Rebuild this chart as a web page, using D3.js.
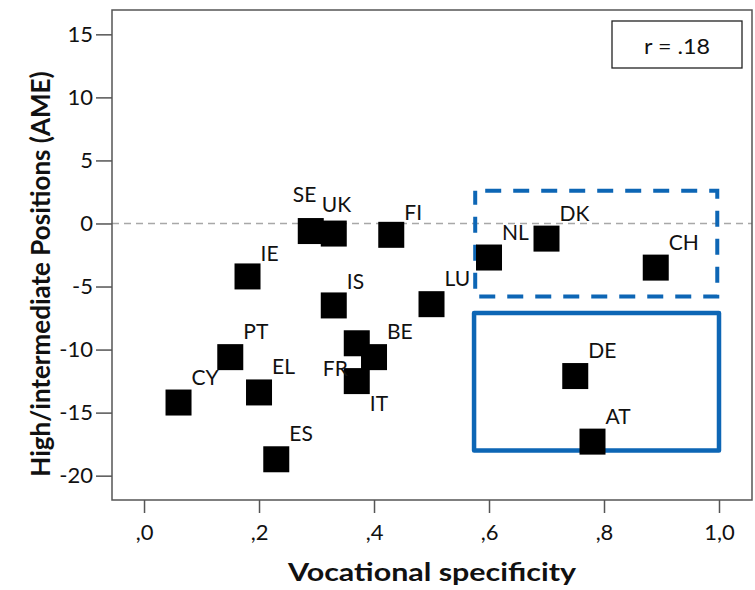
<!DOCTYPE html>
<html>
<head>
<meta charset="utf-8">
<script src="https://cdn.jsdelivr.net/npm/d3@7"></script>
<style>
  html, body { margin: 0; padding: 0; background: #fff; }
  svg { display: block; }
  text { font-family: Lato, "Open Sans", sans-serif; fill: #111; }
</style>
</head>
<body>
<div id="chart"></div>
<script>
// Countries: vocational specificity (x) vs. AME for high/intermediate positions (y)
const countries = ["SE", "UK", "IE", "IS", "PT", "CY", "EL", "ES", "FR", "BE", "IT",
                   "FI", "LU", "NL", "DK", "CH", "DE", "AT"];
const specificity = [0.29, 0.33, 0.18, 0.33, 0.15, 0.06, 0.20, 0.23, 0.37, 0.40, 0.37,
                     0.43, 0.50, 0.60, 0.70, 0.89, 0.75, 0.78];
const ameValues = [-0.6, -0.8, -4.2, -6.5, -10.6, -14.2, -13.4, -18.7, -9.5, -10.6, -12.5,
                   -0.9, -6.4, -2.7, -1.2, -3.5, -12.1, -17.3];

const xTickValues = [0, 0.2, 0.4, 0.6, 0.8, 1.0];
const xTickLabels = [",0", ",2", ",4", ",6", ",8", "1,0"];
const yTickValues = [15, 10, 5, 0, -5, -10, -15, -20];
const yTickLabels = ["15", "10", "5", "0", "-5", "-10", "-15", "-20"];

const correlationLabel = "r = .18";
const xTitle = "Vocational specificity";
const yTitle = "High/intermediate Positions (AME)";

// Highlighted groups of countries (data units: x0, x1, y0, y1)
const dashedGroup = [0.576, 0.997, 2.6, -5.8];
const solidGroup = [0.574, 1.0, -7.1, -18.0];

const W = 755, H = 590;
const margin = { left: 112, top: 10, right: 3, bottom: 90 };
const plotW = W - margin.left - margin.right;
const plotH = H - margin.top - margin.bottom;

const svg = d3.select("#chart").append("svg")
  .attr("width", W).attr("height", H);

const x = d3.scaleLinear().domain([-0.0557, 1.0574]).range([margin.left, margin.left + plotW]);
const y = d3.scaleLinear().domain([16.93, -21.93]).range([margin.top, margin.top + plotH]);

const frameColor = "#555";
const blue = "#0d66b5";

// Reference line at zero
svg.append("line")
  .attr("x1", margin.left).attr("x2", margin.left + plotW)
  .attr("y1", y(0)).attr("y2", y(0))
  .attr("stroke", "#a8a8a8").attr("stroke-width", 1.5)
  .attr("stroke-dasharray", "7 5");

// Axes
const yAxis = svg.append("g")
  .attr("transform", `translate(${margin.left},0)`)
  .call(d3.axisLeft(y).tickValues(yTickValues)
    .tickFormat((d, i) => yTickLabels[i]).tickSize(16).tickPadding(3));
const xAxis = svg.append("g")
  .attr("transform", `translate(0,${margin.top + plotH})`)
  .call(d3.axisBottom(x).tickValues(xTickValues)
    .tickFormat((d, i) => xTickLabels[i]).tickSize(13).tickPadding(11));
[xAxis, yAxis].forEach(g => {
  g.select(".domain").remove();
  g.selectAll(".tick line").attr("stroke", frameColor).attr("stroke-width", 1.5);
  g.selectAll(".tick text").attr("font-size", 22).attr("fill", "#222")
    .style("font-family", "Lato, sans-serif");
});

// Plot frame
svg.append("rect")
  .attr("x", margin.left).attr("y", margin.top)
  .attr("width", plotW).attr("height", plotH)
  .attr("fill", "none").attr("stroke", frameColor).attr("stroke-width", 1.5);

// Group outlines
svg.append("rect")
  .attr("x", x(dashedGroup[0])).attr("y", y(dashedGroup[2]))
  .attr("width", x(dashedGroup[1]) - x(dashedGroup[0]))
  .attr("height", y(dashedGroup[3]) - y(dashedGroup[2]))
  .attr("fill", "none").attr("stroke", blue).attr("stroke-width", 4)
  .attr("stroke-dasharray", "16 12").attr("stroke-dashoffset", -10);
svg.append("rect")
  .attr("x", x(solidGroup[0])).attr("y", y(solidGroup[2]))
  .attr("width", x(solidGroup[1]) - x(solidGroup[0]))
  .attr("height", y(solidGroup[3]) - y(solidGroup[2]))
  .attr("fill", "none").attr("stroke", blue).attr("stroke-width", 4.5)
  .attr("stroke-linejoin", "round");

// Country markers
const half = 13;
const points = countries.map((c, i) => ({ c, vx: specificity[i], vy: ameValues[i] }));
svg.append("g").selectAll("rect").data(points).join("rect")
  .attr("x", d => x(d.vx) - half).attr("y", d => y(d.vy) - half)
  .attr("width", 2 * half).attr("height", 2 * half)
  .attr("fill", "#000");

// Country labels: upper-right of each marker, nudged where markers crowd
const labelNudge = {
  SE: [-31, -11], UK: [-25, -4], FR: [-47, 51], IT: [0, 48],
  IE: [0, 3], IS: [0, 2], FI: [0, 3]
};
svg.append("g").selectAll("text").data(points).join("text")
  .attr("x", d => x(d.vx) + half + (labelNudge[d.c] ? labelNudge[d.c][0] : 0))
  .attr("y", d => y(d.vy) - 18 + (labelNudge[d.c] ? labelNudge[d.c][1] : 0))
  .attr("font-size", 21)
  .text(d => d.c);

// Correlation box
const box = { x: 612, y: 21, w: 130, h: 47 };
svg.append("rect")
  .attr("x", box.x).attr("y", box.y).attr("width", box.w).attr("height", box.h)
  .attr("fill", "#fff").attr("stroke", "#222").attr("stroke-width", 1.3);
svg.append("text")
  .attr("x", box.x + box.w / 2).attr("y", box.y + 33)
  .attr("text-anchor", "middle").attr("font-size", 22)
  .attr("textLength", 66).attr("lengthAdjust", "spacingAndGlyphs")
  .text(correlationLabel);

// Axis titles
svg.append("text")
  .attr("x", margin.left + plotW / 2).attr("y", 581)
  .attr("text-anchor", "middle").attr("font-size", 25).attr("font-weight", "bold")
  .attr("textLength", 288).attr("lengthAdjust", "spacingAndGlyphs")
  .text(xTitle);
svg.append("text")
  .attr("transform", "translate(50,274) rotate(-90)")
  .attr("text-anchor", "middle").attr("font-size", 26).attr("font-weight", "bold")
  .text(yTitle);
</script>
</body>
</html>
